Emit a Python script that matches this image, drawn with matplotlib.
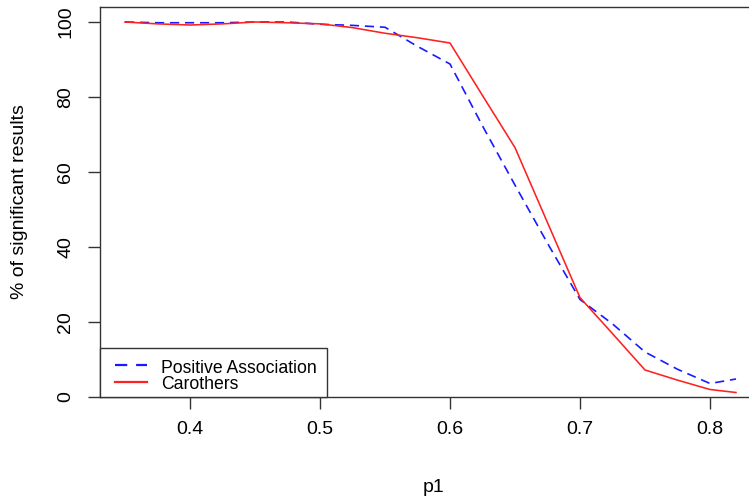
import matplotlib
matplotlib.use("Agg")
import matplotlib.pyplot as plt
from matplotlib.patches import Rectangle
from matplotlib.lines import Line2D

plt.rcParams['font.family'] = ['Liberation Sans', 'DejaVu Sans']

# values
p1 = [0.35, 0.375, 0.4, 0.425, 0.45, 0.475, 0.5, 0.525, 0.55, 0.575,
      0.6, 0.625, 0.65, 0.675, 0.7, 0.725, 0.75, 0.775, 0.8, 0.82]
positive_assoc = [100, 99.8, 99.8, 99.8, 100, 100, 99.4, 99.1, 98.6, 93.5,
                  88.8, 72.3, 56.5, 41.0, 26.0, 19.5, 12.0, 7.4, 3.6, 4.8]
carothers = [100, 99.5, 99.2, 99.5, 100, 99.8, 99.5, 98.5, 97.0, 95.8,
             94.4, 80.4, 66.5, 46.5, 26.5, 16.9, 7.2, 4.5, 2.0, 1.2]
series_names = ["Positive Association", "Carothers"]
x_ticks = [0.4, 0.5, 0.6, 0.7, 0.8]
y_ticks = [0, 20, 40, 60, 80, 100]

fig = plt.figure(figsize=(7.49, 5.01), dpi=100)
# right side of the plot box falls outside the picture, as in the reference
ax = fig.add_axes([100 / 749, 104 / 501, 667 / 749, 390 / 501])

ax.plot(p1, positive_assoc, color='#1a1aff', lw=1.2, ls=(0, (5.5, 3.5)), zorder=3)
ax.plot(p1, carothers, color='#ff2020', lw=1.15, zorder=4)

ax.set_xlim(0.33077, 0.84385)
ax.set_ylim(0, 104)
ax.set_xticks(x_ticks)
ax.set_xticklabels([f"{v:.1f}" for v in x_ticks])
ax.set_yticks(y_ticks)
ax.set_yticklabels([str(v) for v in y_ticks], rotation=90, va='center')
ax.tick_params(axis='both', length=8.6, width=1, color='#333333',
               labelsize=14, pad=9)
ax.tick_params(axis='y', pad=10)

for s in ax.spines.values():
    s.set_color('#333333')
    s.set_linewidth(1.0)

ax.set_xlabel('p1', fontsize=14)
ax.set_ylabel('% of significant results', fontsize=14)
ax.xaxis.set_label_coords(0.5, -0.233)
ax.yaxis.set_label_coords(-0.121, 0.5)
ax.xaxis.label.set_va('center')
ax.yaxis.label.set_va('center')

# legend drawn R-style: box in the lower left corner
ax.add_patch(Rectangle((0, 0), 0.3403, 0.1256, transform=ax.transAxes,
                       facecolor='white', edgecolor='#333333', lw=1.0,
                       zorder=5, clip_on=False))
ax.add_line(Line2D([0.0225, 0.0705], [0.082, 0.082], transform=ax.transAxes,
                   color='#1a1aff', lw=1.6, ls=(0, (5.5, 4)), zorder=6))
ax.add_line(Line2D([0.0225, 0.0705], [0.0397, 0.0397], transform=ax.transAxes,
                   color='#ff2020', lw=1.6, zorder=6))
ax.text(0.0922, 0.0608, series_names[0], transform=ax.transAxes,
        fontsize=12.7, va='baseline', ha='left', zorder=7)
ax.text(0.0922, 0.0197, series_names[1], transform=ax.transAxes,
        fontsize=12.7, va='baseline', ha='left', zorder=7)

fig.savefig('out.png', dpi=100)
